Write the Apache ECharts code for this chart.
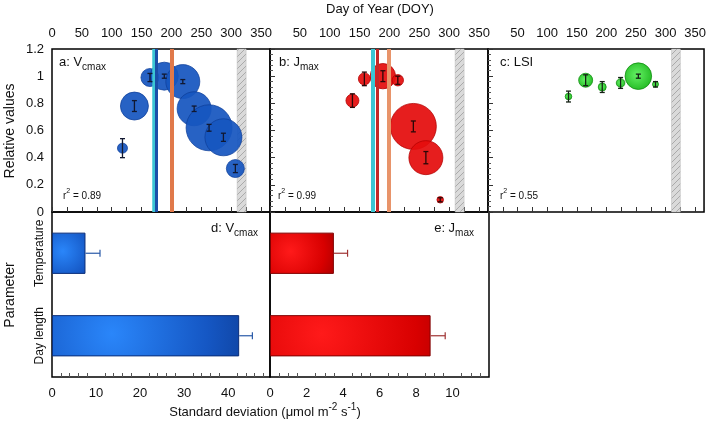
<!DOCTYPE html>
<html><head><meta charset="utf-8">
<script src="https://cdn.jsdelivr.net/npm/echarts@6/dist/echarts.min.js"></script>
<style>html,body{margin:0;padding:0;background:#fff}#c{width:709px;height:423px}</style>
</head><body><div id="c"></div>
<script>
// ---- data ----
const vcDoy  = [118, 138, 164, 188, 219, 238, 263, 287, 307];
const vcVal  = [0.47, 0.78, 0.99, 1.00, 0.96, 0.76, 0.62, 0.55, 0.32];
const vcErr  = [0.07, 0.04, 0.03, 0.015, 0.015, 0.02, 0.025, 0.03, 0.03];
const vcSize = [5, 14, 9, 14, 17, 17, 23, 18.5, 9];

const jmDoy  = [138, 158, 189, 214, 240, 261, 285];
const jmVal  = [0.82, 0.98, 1.00, 0.97, 0.63, 0.40, 0.09];
const jmErr  = [0.05, 0.05, 0.04, 0.03, 0.04, 0.045, 0.015];
const jmSize = [6.5, 6, 12.7, 5.7, 23, 17, 3.3];

const lsDoy  = [136, 165, 193, 224, 254, 283];
const lsVal  = [0.85, 0.97, 0.92, 0.95, 1.00, 0.94];
const lsErr  = [0.04, 0.04, 0.04, 0.04, 0.015, 0.02];
const lsSize = [3.3, 7, 4, 4.3, 13.3, 3];

const solsticeA = 170, peakA = 175, tempPeakA = 200;
const solsticeB = 172, peakB = 180, tempPeakB = 199;
const senescence = [310, 325];

const params = ['Day length', 'Temperature'];
const sdVcmax = [42.5, 7.6];
const sdVcmaxErr = [3.0, 3.3];
const sdJmax = [8.8, 3.5];
const sdJmaxErr = [0.8, 0.75];

const r2 = ['0.89', '0.99', '0.55'];

// ---- helpers ----
const FONT = '"Liberation Sans", Arial, sans-serif';
const hatch = document.createElement('canvas');
hatch.width = 6; hatch.height = 6;
(function(){ const g = hatch.getContext('2d'); g.fillStyle = '#dadada'; g.fillRect(0,0,6,6);
  g.strokeStyle = '#aaaaaa'; g.lineWidth = 1; g.beginPath();
  g.moveTo(0,6); g.lineTo(6,0); g.moveTo(-3,3); g.lineTo(3,-3); g.moveTo(3,9); g.lineTo(9,3); g.stroke(); })();

function vErr(color) {
  return function (p, api) {
    const x = api.value(0), y = api.value(1), e = api.value(2);
    const t = api.coord([x, y + e]), b = api.coord([x, y - e]);
    const s = {stroke: color, lineWidth: 1.3};
    return {type: 'group', children: [
      {type: 'line', shape: {x1: t[0], y1: t[1], x2: b[0], y2: b[1]}, style: s},
      {type: 'line', shape: {x1: t[0] - 2.5, y1: t[1], x2: t[0] + 2.5, y2: t[1]}, style: s},
      {type: 'line', shape: {x1: b[0] - 2.5, y1: b[1], x2: b[0] + 2.5, y2: b[1]}, style: s}
    ]};
  };
}
function hErr(color) {
  return function (p, api) {
    const v = api.value(0), c = api.value(1), e = api.value(2);
    const a = api.coord([v, c]), b = api.coord([v + e, c]);
    const s = {stroke: color, lineWidth: 1.2};
    return {type: 'group', children: [
      {type: 'line', shape: {x1: a[0], y1: a[1], x2: b[0], y2: b[1]}, style: s},
      {type: 'line', shape: {x1: b[0], y1: b[1] - 3.5, x2: b[0], y2: b[1] + 3.5}, style: s}
    ]};
  };
}
const zip3 = (a, b, c) => a.map((v, i) => [v, b[i], c[i]]);

const tickLbl = {fontFamily: FONT, fontSize: 13, color: '#111'};
function topXAxes(gi, showMin) {
  return [
    {gridIndex: gi, type: 'value', position: 'bottom', min: 0, max: 365, interval: 25,
     axisLine: {show: false}, splitLine: {show: false}, axisLabel: {show: false},
     axisTick: {show: true, inside: true, length: 5, lineStyle: {color: '#333'}}},
    {gridIndex: gi, type: 'value', position: 'top', min: 0, max: 365, interval: 50,
     axisLine: {show: false}, splitLine: {show: false}, axisTick: {show: false},
     axisLabel: Object.assign({margin: 9, showMaxLabel: false, showMinLabel: showMin}, tickLbl)}
  ];
}
function topYAxis(gi, labels) {
  return {gridIndex: gi, type: 'value', min: 0, max: 1.2, interval: 0.2,
    axisLine: {show: false}, splitLine: {show: false},
    axisLabel: Object.assign({show: labels, margin: 8}, tickLbl),
    axisTick: {show: !labels, inside: true, length: 5, lineStyle: {color: '#333'}},
    minorTick: {show: !labels, splitNumber: 5, length: 3, lineStyle: {color: '#555'}}};
}
function vline(gi, x, color, w) {
  return {xAxisIndex: gi * 2, yAxisIndex: gi, type: 'scatter', data: [], silent: true,
    markLine: {symbol: 'none', silent: true, animation: false, label: {show: false},
      lineStyle: {color: color, width: w, type: 'solid'}, data: [{xAxis: x}]}};
}
function band(gi) {
  return {xAxisIndex: gi * 2, yAxisIndex: gi, type: 'scatter', data: [], silent: true, z: 1,
    markArea: {silent: true, animation: false, itemStyle: {color: {image: hatch, repeat: 'repeat'}, borderColor: '#bbb', borderWidth: 0.5},
      data: [[{xAxis: senescence[0]}, {xAxis: senescence[1]}]]}};
}
function bubbles(gi, d, v, s, color, border, op) {
  return {xAxisIndex: gi * 2, yAxisIndex: gi, type: 'scatter', z: 3,
    data: v.map((y, i) => [d[i], y, s[i]]),
    symbolSize: (val) => val[2] * 2,
    itemStyle: {color: color, borderColor: border, borderWidth: 0.8, opacity: op}};
}
function errSeries(gi, d, v, e, color) {
  return {xAxisIndex: gi * 2, yAxisIndex: gi, type: 'custom', z: 6, silent: true,
    renderItem: vErr(color), data: zip3(d, v, e)};
}
function barGrad(stops, long) {
  return new echarts.graphic.RadialGradient(0.32, 0.45, long ? 4.2 : 1.5, stops);
}
const blueStops = [{offset: 0, color: '#2a86fa'}, {offset: 0.55, color: '#1557c4'}, {offset: 1, color: '#0a3283'}];
const redStops = [{offset: 0, color: '#ff1a1a'}, {offset: 0.55, color: '#d80000'}, {offset: 1, color: '#8a0000'}];
const greenBub = new echarts.graphic.RadialGradient(0.45, 0.45, 0.6, [
  {offset: 0, color: '#5cf05c'}, {offset: 1, color: '#16b516'}]);

const gridStyle = {show: true, borderColor: '#000', borderWidth: 1.5, backgroundColor: 'transparent'};

const option = {
  animation: false,
  backgroundColor: '#fff',
  textStyle: {fontFamily: FONT},
  grid: [
    Object.assign({left: 52, top: 49, width: 218, height: 163}, gridStyle),
    Object.assign({left: 270, top: 49, width: 218, height: 163}, gridStyle),
    Object.assign({left: 488, top: 49, width: 217, height: 163}, gridStyle),
    Object.assign({left: 52, top: 212, width: 218, height: 165}, gridStyle),
    Object.assign({left: 270, top: 212, width: 219, height: 165}, gridStyle)
  ],
  xAxis: [].concat(topXAxes(0, true), topXAxes(1, false), topXAxes(2, false), [
    {gridIndex: 3, type: 'value', min: 0, max: 49.5, interval: 10,
     axisLine: {show: false}, splitLine: {show: false},
     axisTick: {inside: true, length: 5, lineStyle: {color: '#333'}},
     minorTick: {show: true, splitNumber: 5, length: 4, lineStyle: {color: '#555'}},
     axisLabel: Object.assign({margin: 10, showMaxLabel: false}, tickLbl)},
    {gridIndex: 4, type: 'value', min: 0, max: 12, interval: 2,
     axisLine: {show: false}, splitLine: {show: false},
     axisTick: {inside: true, length: 5, lineStyle: {color: '#333'}},
     minorTick: {show: true, splitNumber: 4, length: 4, lineStyle: {color: '#555'}},
     axisLabel: Object.assign({margin: 10, showMaxLabel: false}, tickLbl)}
  ]),
  yAxis: [
    topYAxis(0, true), topYAxis(1, false), topYAxis(2, false),
    {gridIndex: 3, type: 'category', data: params, axisLine: {show: false}, axisTick: {show: false},
     axisLabel: {rotate: 90, margin: 6, interval: 0, hideOverlap: false, fontFamily: FONT, fontSize: 12, color: '#111'}},
    {gridIndex: 4, type: 'category', data: params, axisLine: {show: false}, axisTick: {show: false},
     axisLabel: {show: false}}
  ],
  series: [
    band(0), band(1), band(2),
    Object.assign(vline(0, tempPeakA, '#e0794a', 4), {z: 1}),
    bubbles(0, vcDoy, vcVal, vcSize, '#1756c0', '#0e3f99', 0.93),
    Object.assign(vline(0, solsticeA, '#3cc6d4', 3.5), {z: 5}),
    Object.assign(vline(0, peakA, '#1a4fa8', 3), {z: 5}),
    errSeries(0, vcDoy, vcVal, vcErr, '#111830'),

    Object.assign(vline(1, solsticeB, '#3cc6d4', 4), {z: 1}),
    Object.assign(vline(1, peakB, '#c42828', 3), {z: 1}),
    Object.assign(vline(1, tempPeakB, '#e8946a', 4), {z: 1}),
    bubbles(1, jmDoy, jmVal, jmSize, '#e40d0d', '#b00000', 0.93),
    errSeries(1, jmDoy, jmVal, jmErr, '#2a0808'),

    bubbles(2, lsDoy, lsVal, lsSize, greenBub, '#0d8a0d', 0.95),
    errSeries(2, lsDoy, lsVal, lsErr, '#142014'),

    {type: 'bar', xAxisIndex: 6, yAxisIndex: 3, barWidth: '50%',
     data: sdVcmax.map((v, i) => ({value: v, itemStyle: {color: barGrad(blueStops, v > 20)}})),
     itemStyle: {borderColor: '#0a2d78', borderWidth: 1}},
    {type: 'custom', xAxisIndex: 6, yAxisIndex: 3, renderItem: hErr('#2a5aa8'),
     data: sdVcmax.map((v, i) => [v, i, sdVcmaxErr[i]]), z: 5},
    {type: 'bar', xAxisIndex: 7, yAxisIndex: 4, barWidth: '50%',
     data: sdJmax.map((v, i) => ({value: v, itemStyle: {color: barGrad(redStops, v > 5)}})),
     itemStyle: {borderColor: '#800000', borderWidth: 1}},
    {type: 'custom', xAxisIndex: 7, yAxisIndex: 4, renderItem: hErr('#a03434'),
     data: sdJmax.map((v, i) => [v, i, sdJmaxErr[i]]), z: 5}
  ],
  graphic: [
    {type: 'text', x: 380, y: 9, style: {text: 'Day of Year (DOY)', font: '13px ' + FONT, fill: '#111', align: 'center', verticalAlign: 'middle'}},
    {type: 'text', x: 10, y: 131, rotation: Math.PI / 2,
     style: {text: 'Relative values', font: '14px ' + FONT, fill: '#111', align: 'center', verticalAlign: 'middle'}},
    {type: 'text', x: 10, y: 295, rotation: Math.PI / 2,
     style: {text: 'Parameter', font: '14px ' + FONT, fill: '#111', align: 'center', verticalAlign: 'middle'}},
    {type: 'text', x: 265, y: 412,
     style: {text: 'Standard deviation (μmol m{sup|-2} s{sup|-1})', font: '13px ' + FONT, fill: '#111', align: 'center', verticalAlign: 'middle',
       rich: {sup: {fontSize: 10, fontFamily: FONT, verticalAlign: 'top', lineHeight: 10, fill: '#111'}}, lineHeight: 20}},
    {type: 'text', x: 59, y: 62,
     style: {text: 'a: V{sub|cmax}', font: '13px ' + FONT, fill: '#111', verticalAlign: 'middle', lineHeight: 20,
       rich: {sub: {fontSize: 10, fontFamily: FONT, verticalAlign: 'bottom', lineHeight: 11, fill: '#111'}}}},
    {type: 'text', x: 279, y: 62,
     style: {text: 'b: J{sub|max}', font: '13px ' + FONT, fill: '#111', verticalAlign: 'middle', lineHeight: 20,
       rich: {sub: {fontSize: 10, fontFamily: FONT, verticalAlign: 'bottom', lineHeight: 11, fill: '#111'}}}},
    {type: 'text', x: 500, y: 62,
     style: {text: 'c: LSI', font: '13px ' + FONT, fill: '#111', verticalAlign: 'middle'}},
    {type: 'text', x: 258, y: 228,
     style: {text: 'd: V{sub|cmax}', font: '13px ' + FONT, fill: '#111', align: 'right', verticalAlign: 'middle', lineHeight: 20,
       rich: {sub: {fontSize: 10, fontFamily: FONT, verticalAlign: 'bottom', lineHeight: 11, fill: '#111'}}}},
    {type: 'text', x: 474, y: 228,
     style: {text: 'e: J{sub|max}', font: '13px ' + FONT, fill: '#111', align: 'right', verticalAlign: 'middle', lineHeight: 20,
       rich: {sub: {fontSize: 10, fontFamily: FONT, verticalAlign: 'bottom', lineHeight: 11, fill: '#111'}}}},
    {type: 'text', x: 63, y: 196,
     style: {text: 'r{sup|2} = ' + r2[0], font: '10px ' + FONT, fill: '#111', verticalAlign: 'middle', lineHeight: 16,
       rich: {sup: {fontSize: 7, fontFamily: FONT, verticalAlign: 'top', lineHeight: 8, fill: '#111'}}}},
    {type: 'text', x: 278, y: 196,
     style: {text: 'r{sup|2} = ' + r2[1], font: '10px ' + FONT, fill: '#111', verticalAlign: 'middle', lineHeight: 16,
       rich: {sup: {fontSize: 7, fontFamily: FONT, verticalAlign: 'top', lineHeight: 8, fill: '#111'}}}},
    {type: 'text', x: 500, y: 196,
     style: {text: 'r{sup|2} = ' + r2[2], font: '10px ' + FONT, fill: '#111', verticalAlign: 'middle', lineHeight: 16,
       rich: {sup: {fontSize: 7, fontFamily: FONT, verticalAlign: 'top', lineHeight: 8, fill: '#111'}}}}
  ]
};
const chart = echarts.init(document.getElementById('c'), null, {renderer: 'canvas'});
chart.setOption(option);
</script>
</body></html>
